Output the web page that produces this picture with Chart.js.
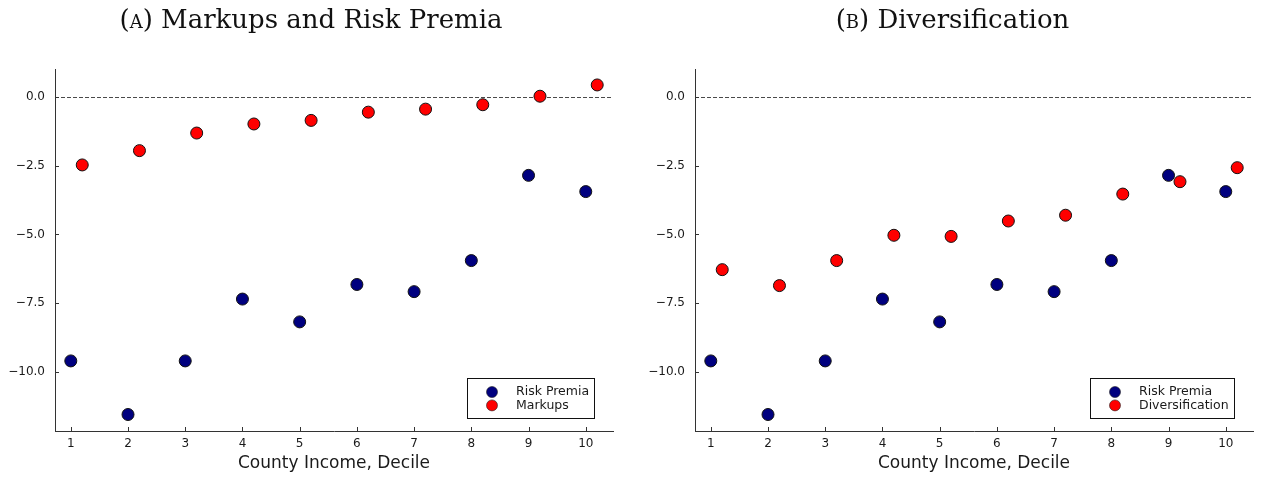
<!DOCTYPE html>
<html lang="en">
<head>
<meta charset="UTF-8">
<title>Risk Premia by County Income Decile</title>
<style>
    body {
        margin: 0;
        background: #fff;
        width: 1265px;
        height: 478px;
        position: relative;
        overflow: hidden;
    }
    .panel {
        position: absolute;
        top: 0;
        height: 478px;
    }
    #panelA { left: 0; width: 622px; }
    #panelB { left: 640px; width: 625px; }
    .panel h2 {
        position: absolute;
        top: 0;
        left: 0;
        right: 0;
        margin: 0;
        text-align: center;
        font-family: "DejaVu Serif", "Liberation Serif", serif;
        font-weight: normal;
        font-size: 26px;
        line-height: 38px;
        color: #111;
        z-index: 2;
    }
    .sc { font-variant: small-caps; }
    .plot {
        position: absolute;
        left: 0;
        top: 0;
        width: 632px;
        height: 100%;
    }
    #panelB .plot { width: 625px; }
</style>
<script src="https://cdn.jsdelivr.net/npm/chart.js"></script>
</head>
<body>

<div class="panel" id="panelA">
    <h2>(<span class="sc">a</span>) Markups and Risk Premia</h2>
    <div class="plot"><canvas id="chartA"></canvas></div>
</div>

<div class="panel" id="panelB">
    <h2>(<span class="sc">b</span>) Diversification</h2>
    <div class="plot"><canvas id="chartB"></canvas></div>
</div>

<script>
    // county income deciles
    const deciles = [1, 2, 3, 4, 5, 6, 7, 8, 9, 10];

    // series values by decile
    const riskPremia = [-9.6, -11.55, -9.6, -7.35, -8.18, -6.82, -7.08, -5.95, -2.85, -3.44];
    const markups = [-2.47, -1.95, -1.31, -0.98, -0.85, -0.55, -0.44, -0.28, 0.03, 0.44];
    const diversification = [-6.28, -6.86, -5.95, -5.03, -5.07, -4.51, -4.30, -3.53, -3.08, -2.57];

    // axis ticks
    const xTicks = [1, 2, 3, 4, 5, 6, 7, 8, 9, 10];
    const yTicks = [-10, -7.5, -5, -2.5, 0];

    const DODGE = 0.2;   // second series sits slightly right of each decile
    const AXIS = '#333';
    const TEXT = '#1a1a1a';
    const SANS = '"DejaVu Sans", sans-serif';

    function fmtY(v) {
        const s = Math.abs(v).toFixed(1);
        return v < 0 ? '\u2212' + s : s;
    }

    // zero line, inward tick marks and the boxed legend
    const panelDecor = {
        id: 'panelDecor',
        beforeDatasetsDraw(chart) {
            const { ctx, chartArea: a, scales: { x, y } } = chart;
            ctx.save();
            ctx.strokeStyle = '#4a4a4a';
            ctx.lineWidth = 1;
            ctx.setLineDash([4, 2]);
            const y0 = Math.round(y.getPixelForValue(0)) + 0.5;
            ctx.beginPath();
            ctx.moveTo(a.left, y0);
            ctx.lineTo(a.right, y0);
            ctx.stroke();
            ctx.setLineDash([]);

            ctx.strokeStyle = AXIS;
            ctx.beginPath();
            x.ticks.forEach(t => {
                const px = Math.round(x.getPixelForValue(t.value)) + 0.5;
                ctx.moveTo(px, a.bottom);
                ctx.lineTo(px, a.bottom - 4);
            });
            y.ticks.forEach(t => {
                const py = Math.round(y.getPixelForValue(t.value)) + 0.5;
                ctx.moveTo(a.left, py);
                ctx.lineTo(a.left + 4, py);
            });
            ctx.stroke();
            ctx.restore();
        },
        afterDatasetsDraw(chart) {
            const { ctx, chartArea: a } = chart;
            const sets = chart.data.datasets;
            ctx.save();
            ctx.font = '12.5px ' + SANS;
            const textW = Math.max(...sets.map(d => ctx.measureText(d.label).width));
            const w = Math.round(49 + textW + 5);
            const h = 40;
            const right = a.right - 19;
            const bottom = a.bottom - 13;
            const left = right - w;
            const top = bottom - h;
            ctx.fillStyle = '#fff';
            ctx.fillRect(left, top, w, h);
            ctx.strokeStyle = '#111';
            ctx.lineWidth = 1;
            ctx.strokeRect(left + 0.5, top + 0.5, w, h);
            ctx.textBaseline = 'middle';
            sets.forEach((d, i) => {
                const cy = top + 14 + i * 13.4;
                ctx.beginPath();
                ctx.arc(left + 25, cy, 5.5, 0, Math.PI * 2);
                ctx.fillStyle = d.backgroundColor;
                ctx.fill();
                ctx.lineWidth = 0.6;
                ctx.strokeStyle = '#222';
                ctx.stroke();
                ctx.fillStyle = TEXT;
                ctx.fillText(d.label, left + 49, cy);
            });
            ctx.restore();
        }
    };

    function pointSet(label, values, shift, colour) {
        return {
            label: label,
            data: deciles.map((d, i) => ({ x: d + shift, y: values[i] })),
            backgroundColor: colour,
            borderColor: '#111',
            borderWidth: 1,
            pointRadius: 6,
            pointHoverRadius: 6
        };
    }

    function makePanel(canvasId, secondLabel, secondValues, padRight) {
        new Chart(document.getElementById(canvasId), {
            type: 'scatter',
            data: {
                datasets: [
                    pointSet('Risk Premia', riskPremia, 0, '#00007f'),
                    pointSet(secondLabel, secondValues, DODGE, '#ff0000')
                ]
            },
            options: {
                animation: false,
                responsive: true,
                maintainAspectRatio: false,
                layout: { padding: { top: 69, right: padRight, bottom: 0, left: 0 } },
                plugins: {
                    legend: { display: false },
                    tooltip: { enabled: false }
                },
                scales: {
                    x: {
                        type: 'linear',
                        min: 0.724,
                        max: 10.476,
                        grid: { display: false, drawTicks: false },
                        border: { display: true, color: AXIS, width: 1 },
                        afterBuildTicks: s => { s.ticks = xTicks.map(v => ({ value: v })); },
                        afterFit: s => { s.height = 47; },
                        ticks: {
                            padding: 6,
                            color: TEXT,
                            font: { family: SANS, size: 12 },
                            callback: v => String(v)
                        },
                        title: {
                            display: true,
                            text: 'County Income, Decile',
                            color: TEXT,
                            font: { family: SANS, size: 17 },
                            padding: { top: 0, bottom: 4 }
                        }
                    },
                    y: {
                        type: 'linear',
                        min: -12.15,
                        max: 1.02,
                        grid: { display: false, drawTicks: false },
                        border: { display: true, color: AXIS, width: 1 },
                        afterBuildTicks: s => { s.ticks = yTicks.map(v => ({ value: v })); },
                        afterFit: s => { s.width = 55; },
                        ticks: {
                            padding: 10,
                            color: TEXT,
                            font: { family: SANS, size: 12 },
                            callback: v => fmtY(v)
                        }
                    }
                }
            },
            plugins: [panelDecor]
        });
    }

    makePanel('chartA', 'Markups', markups, 19);
    makePanel('chartB', 'Diversification', diversification, 12);
</script>

</body>
</html>
